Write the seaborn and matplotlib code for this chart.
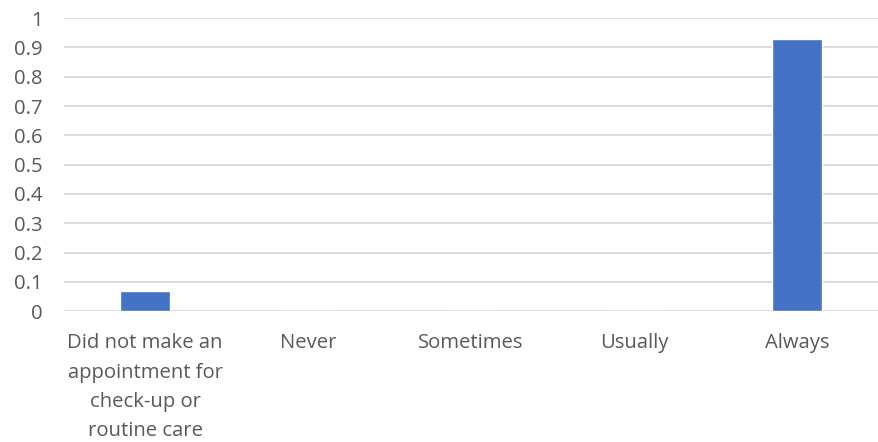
import seaborn as sns
import matplotlib.pyplot as plt
import pandas as pd

categories = ["Did not make an\nappointment for\ncheck-up or\nroutine care",
              "Never", "Sometimes", "Usually", "Always"]
values = [0.07, 0.0, 0.0, 0.0, 0.93]
yticks = [0, 0.1, 0.2, 0.3, 0.4, 0.5, 0.6, 0.7, 0.8, 0.9, 1]

df = pd.DataFrame({"category": categories, "value": values})

sns.set_theme(style="white")
plt.rcParams['font.family'] = ['Open Sans', 'DejaVu Sans']

fig = plt.figure(figsize=(8.79, 4.42), dpi=100)
ax = fig.add_axes([0.0724, 0.296, 0.927, 0.663])

sns.barplot(data=df, x="category", y="value", color="#4472C4", width=0.31,
            saturation=1, ax=ax, zorder=3)

ax.set_ylim(0, 1)
ax.set_yticks(yticks)
ax.set_yticklabels([f"{t:g}" for t in yticks])
ax.grid(axis="y", color="#d9d9d9", linewidth=1.3, zorder=0)
ax.set_xlim(-0.5, 4.5)
ax.set_xlabel("")
ax.set_ylabel("")
sns.despine(ax=ax, left=True, top=True, right=True, bottom=True)
ax.tick_params(axis="both", length=0, labelsize=14.6, labelcolor="#595959")
ax.tick_params(axis="y", pad=15)
ax.tick_params(axis="x", pad=16)
for lbl in ax.get_xticklabels():
    lbl.set_linespacing(1.62)

fig.savefig("out.png", dpi=100)
